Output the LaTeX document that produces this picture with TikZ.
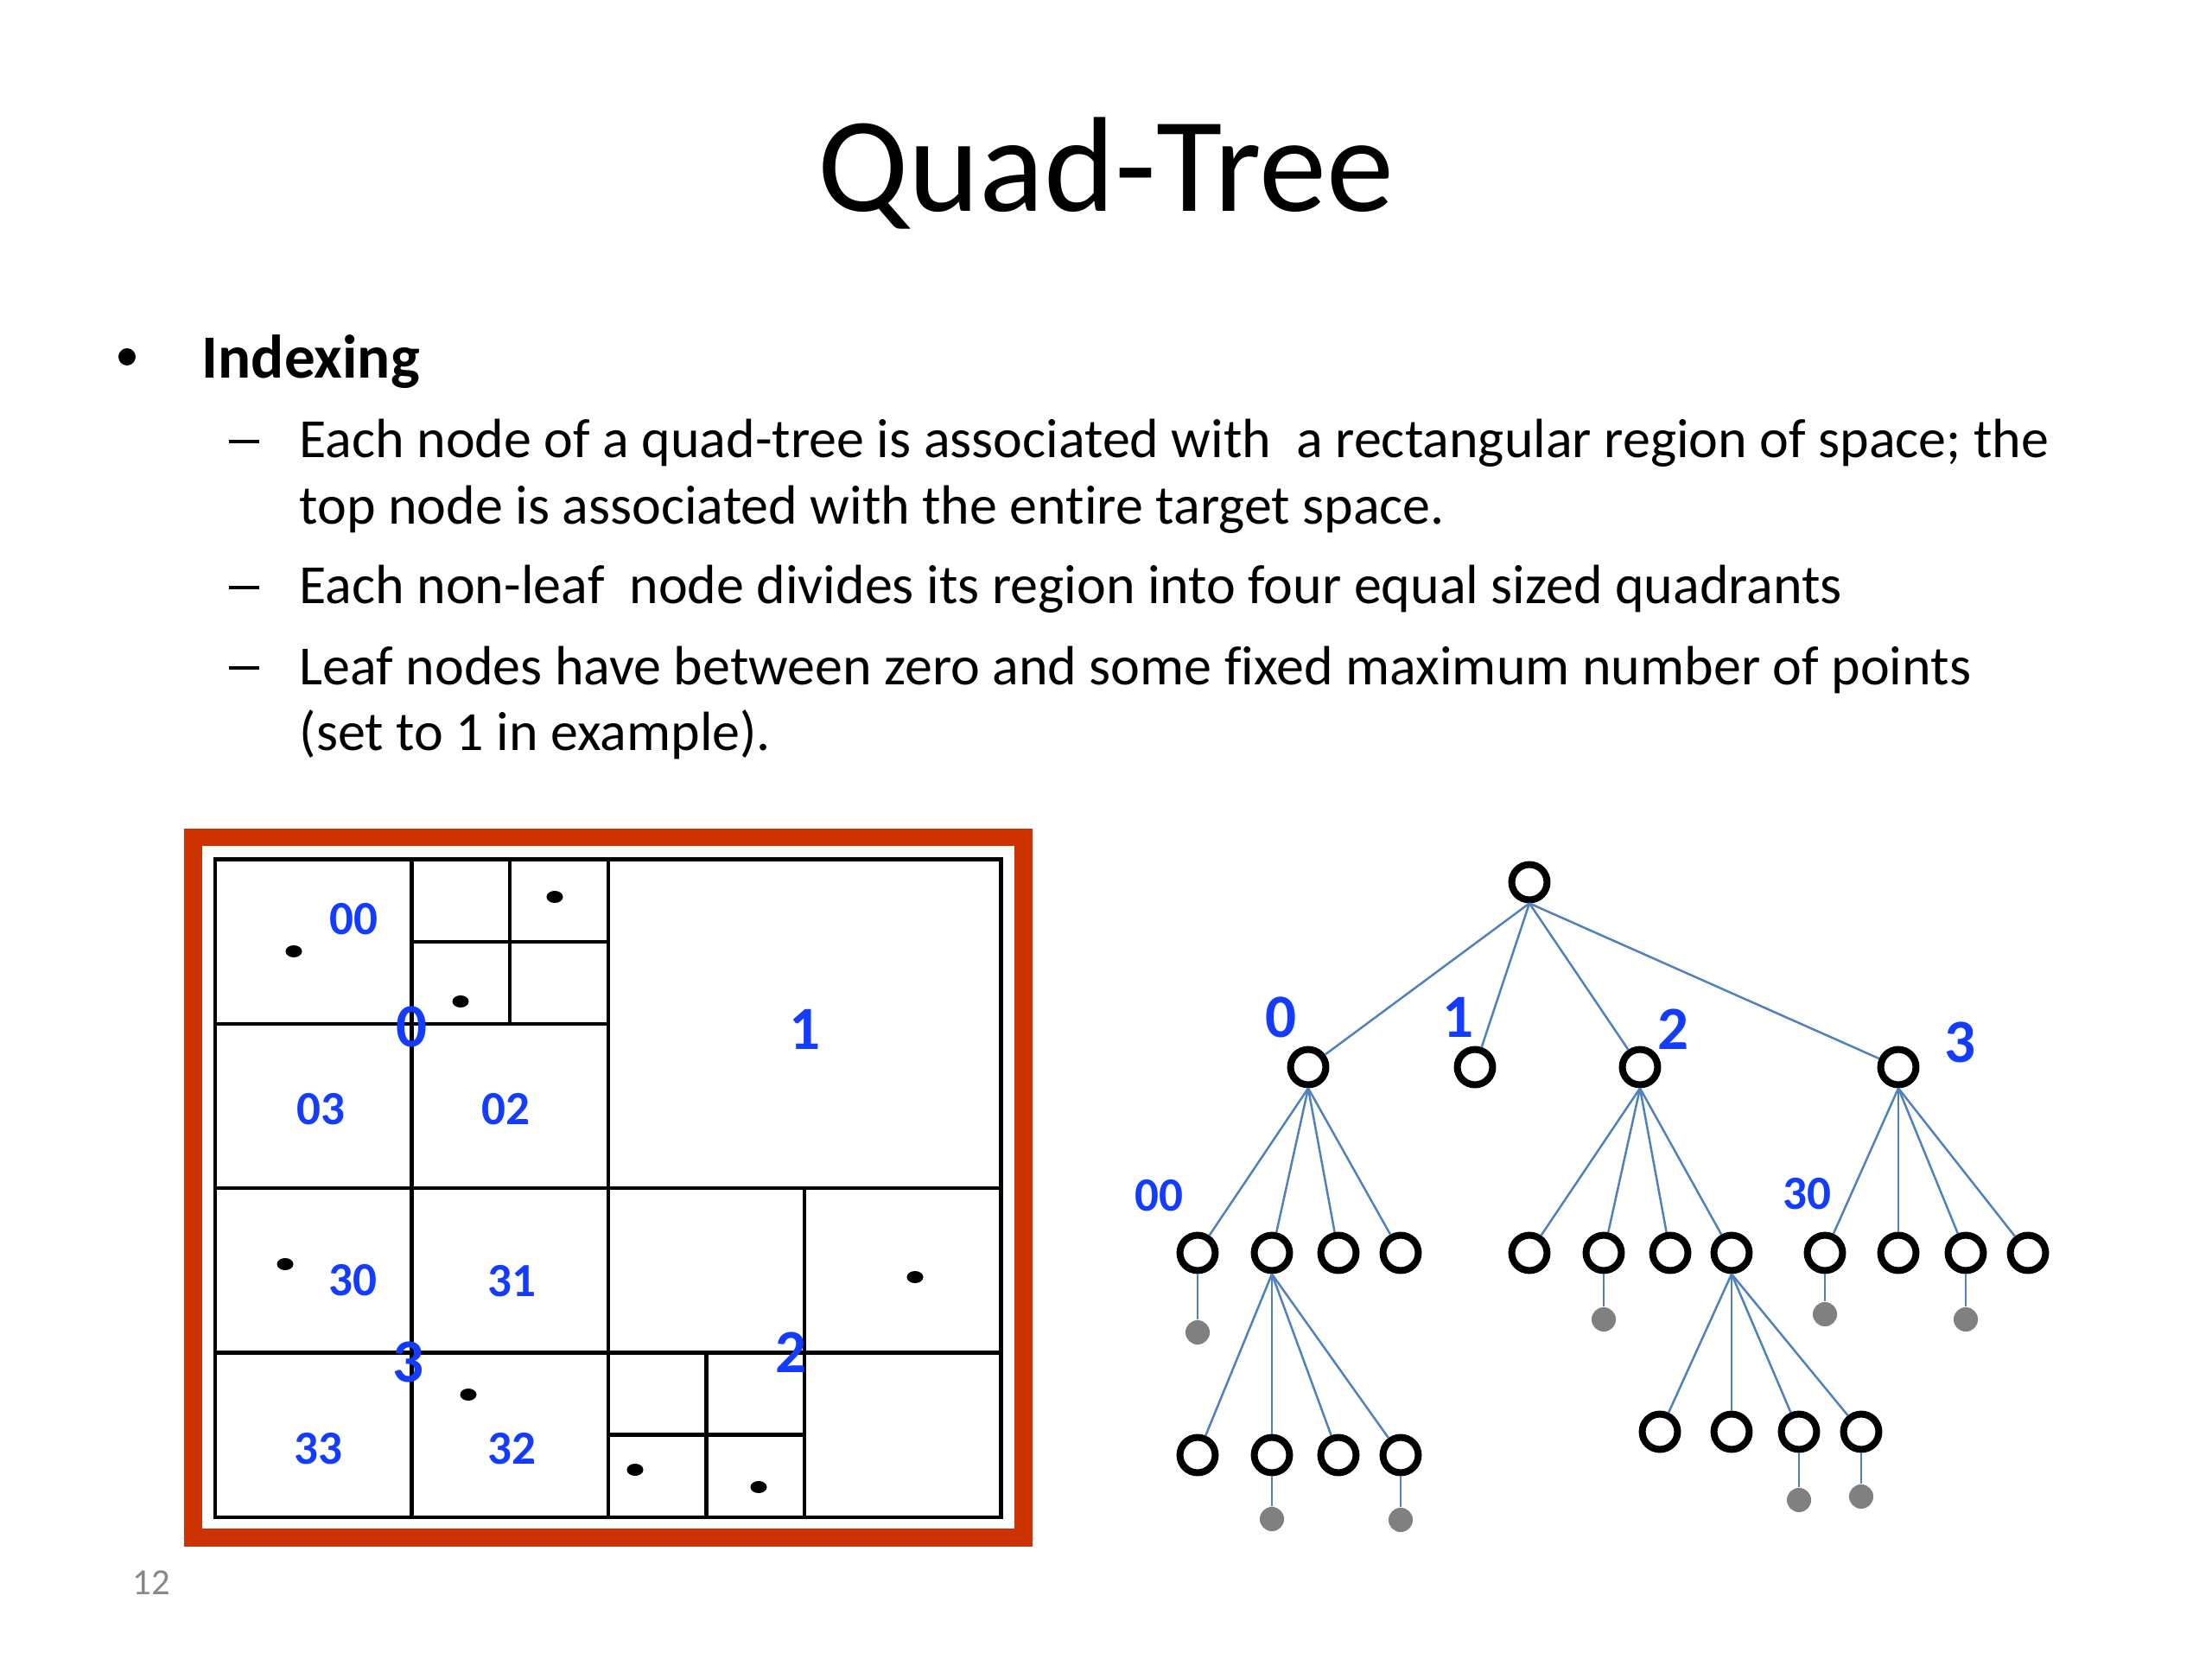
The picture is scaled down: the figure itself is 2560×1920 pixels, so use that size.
\documentclass[tikz,border=0pt]{standalone}
\usepackage{fontspec}
\setmainfont{Carlito}[Ligatures={NoCommon}]
\definecolor{lblue}{RGB}{20,60,255}
\definecolor{edgeblue}{RGB}{79,129,189}
\definecolor{framered}{RGB}{204,51,0}
\definecolor{ptgray}{RGB}{128,128,128}
\definecolor{pnumgray}{RGB}{137,137,137}
\begin{document}
\begin{tikzpicture}[x=0.28125pt,y=-0.28125pt,
  txt/.style={anchor=base west,inner sep=0pt,font=\fontsize{18}{21.6}\selectfont},
  dashmark/.style={anchor=base west,inner sep=0pt,font=\fontsize{18}{21.6}\selectfont},
  qnode/.style={circle,draw=black,line width=2.25pt,minimum size=11.5pt,inner sep=0pt,fill=white},
  ptnode/.style={circle,fill=ptgray,minimum size=7.9pt,inner sep=0pt},
  link/.style={draw=edgeblue,line width=0.7pt},
  biglab/.style={inner sep=0pt,text=lblue,font=\fontsize{20}{24}\selectfont\bfseries},
  smalllab/.style={inner sep=0pt,text=lblue,font=\fontsize{15.5}{18}\selectfont\bfseries},
  gridline/.style={draw=black,line width=1.15pt},
  pt/.style={fill=black}]
\useasboundingbox (0,0) rectangle (2560,1920);
\fill[white] (0,0) rectangle (2560,1920);

% ---------- title and text ----------
\node[anchor=base,inner sep=0pt,font=\fontsize{44}{53}\selectfont] (title) at (1280,245) {Quad-Tree};
\node[circle,fill=black,inner sep=0pt,minimum size=5.6pt] (bul) at (147,413) {};
\node[anchor=base west,inner sep=0pt,font=\fontsize{20}{24}\selectfont\bfseries] (idx) at (233,438) {Indexing};
\node[dashmark] (d1) at (264,530) {\rule[4.9pt]{10pt}{0.9pt}};
\node[txt] (t1) at (346,530) {Each node of a quad-tree is associated with \ a rectangular region of space; the};
\node[txt] (t2) at (346,607) {top node is associated with the entire target space.};
\node[dashmark] (d2) at (264,699) {\rule[4.9pt]{10pt}{0.9pt}};
\node[txt] (t3) at (346,699) {Each non-leaf \ node divides its region into four equal sized quadrants};
\node[dashmark] (d3) at (264,792) {\rule[4.9pt]{10pt}{0.9pt}};
\node[txt] (t4) at (346,792) {Leaf nodes have between zero and some fixed maximum number of points};
\node[txt] (t5) at (346,869) {(set to 1 in example).};
\node[anchor=base,inner sep=0pt,text=pnumgray,font=\fontsize{12}{14}\selectfont] (pnum) at (175,1845) {12};

% ---------- grid ----------
\draw[draw=framered,line width=5.9pt] (223.5,969) rectangle (1184,1779);
\def\Xa{249}\def\Xb{476.5}\def\Xc{704}\def\Xd{931}\def\Xe{1158.5}
\def\Xp{590}\def\Xq{817.5}
\def\Ya{994.5}\def\Yb{1185}\def\Yc{1375}\def\Yd{1565.5}\def\Ye{1756}
\def\Yp{1090}\def\Yq{1660.5}
\draw[gridline] (\Xa,\Ya) rectangle (\Xe,\Ye);
\draw[gridline] (\Xa,\Yc) -- (\Xe,\Yc);
\draw[gridline] (\Xc,\Ya) -- (\Xc,\Ye);
\draw[gridline] (\Xb,\Ya) -- (\Xb,\Ye);
\draw[gridline] (\Xa,\Yb) -- (\Xc,\Yb);
\draw[gridline] (\Xa,\Yd) -- (\Xe,\Yd);
\draw[gridline] (\Xd,\Yc) -- (\Xd,\Ye);
\draw[gridline] (\Xb,\Yp) -- (\Xc,\Yp);
\draw[gridline] (\Xp,\Ya) -- (\Xp,\Yb);
\draw[gridline] (\Xc,\Yq) -- (\Xd,\Yq);
\draw[gridline] (\Xq,\Yd) -- (\Xq,\Ye);

% points
\fill[pt] (340,1101) ellipse [x radius=9.5, y radius=7];
\fill[pt] (642,1038) ellipse [x radius=9.5, y radius=7];
\fill[pt] (533,1159) ellipse [x radius=9.5, y radius=7];
\fill[pt] (330,1463) ellipse [x radius=9.5, y radius=7];
\fill[pt] (1059,1478) ellipse [x radius=9.5, y radius=7];
\fill[pt] (542,1614) ellipse [x radius=9.5, y radius=7];
\fill[pt] (735,1701) ellipse [x radius=9.5, y radius=7];
\fill[pt] (878,1721) ellipse [x radius=9.5, y radius=7];

% grid labels
\node[smalllab] (g00) at (409,1064) {00};
\node[biglab]   (g0)  at (476.5,1188.5) {0};
\node[biglab]   (g1)  at (932,1191) {1};
\node[smalllab] (g03) at (371,1284) {03};
\node[smalllab] (g02) at (585,1284) {02};
\node[smalllab] (g30) at (408,1482) {30};
\node[smalllab] (g31) at (592,1483) {31};
\node[biglab]   (g3)  at (473,1576) {3};
\node[biglab]   (g2)  at (916,1565) {2};
\node[smalllab] (g33) at (368,1677) {33};
\node[smalllab] (g32) at (592,1677) {32};

% ---------- tree ----------
\node[qnode] (r) at (1770,1021) {};
\node[qnode] (n0) at (1514,1235) {};
\node[qnode] (n1) at (1707,1235) {};
\node[qnode] (n2) at (1898,1235) {};
\node[qnode] (n3) at (2197,1235) {};
\node[qnode] (n00) at (1386,1450) {};
\node[qnode] (n01) at (1472,1450) {};
\node[qnode] (n02) at (1549,1450) {};
\node[qnode] (n03) at (1621,1450) {};
\node[qnode] (n20) at (1770,1450) {};
\node[qnode] (n21) at (1856,1450) {};
\node[qnode] (n22) at (1933,1450) {};
\node[qnode] (n23) at (2004,1450) {};
\node[qnode] (n30) at (2112,1450) {};
\node[qnode] (n31) at (2197,1450) {};
\node[qnode] (n32) at (2275,1450) {};
\node[qnode] (n33) at (2347,1450) {};
\node[qnode] (n010) at (1386,1684) {};
\node[qnode] (n011) at (1472,1684) {};
\node[qnode] (n012) at (1549,1684) {};
\node[qnode] (n013) at (1621,1684) {};
\node[qnode] (n230) at (1921,1657) {};
\node[qnode] (n231) at (2004,1657) {};
\node[qnode] (n232) at (2082,1657) {};
\node[qnode] (n233) at (2154,1657) {};

\node[ptnode] (p00) at (1386,1542) {};
\node[ptnode] (p21) at (1856,1527) {};
\node[ptnode] (p30) at (2112,1521) {};
\node[ptnode] (p32) at (2275,1527) {};
\node[ptnode] (p011) at (1472,1758) {};
\node[ptnode] (p013) at (1621,1759) {};
\node[ptnode] (p232) at (2082,1736) {};
\node[ptnode] (p233) at (2154,1732) {};

\foreach \c in {n0,n1,n2,n3} \draw[link] (r.south) -- (\c);
\foreach \c in {n00,n01,n02,n03} \draw[link] (n0.south) -- (\c);
\foreach \c in {n20,n21,n22,n23} \draw[link] (n2.south) -- (\c);
\foreach \c in {n30,n31,n32,n33} \draw[link] (n3.south) -- (\c);
\foreach \c in {n010,n011,n012,n013} \draw[link] (n01.south) -- (\c);
\foreach \c in {n230,n231,n232,n233} \draw[link] (n23.south) -- (\c);
\foreach \a/\b in {n00/p00,n21/p21,n30/p30,n32/p32,n011/p011,n013/p013,n232/p232,n233/p233}
  \draw[link] (\a.south) -- (\b.north);

% tree labels
\node[biglab] (t0) at (1483,1177) {0};
\node[biglab] (tl1) at (1687,1177) {1};
\node[biglab] (tl2) at (1936,1191) {2};
\node[biglab] (tl3) at (2268,1206) {3};
\node[smalllab] (tl00) at (1341,1384) {00};
\node[smalllab] (tl30) at (2091,1382) {30};
\end{tikzpicture}
\end{document}
